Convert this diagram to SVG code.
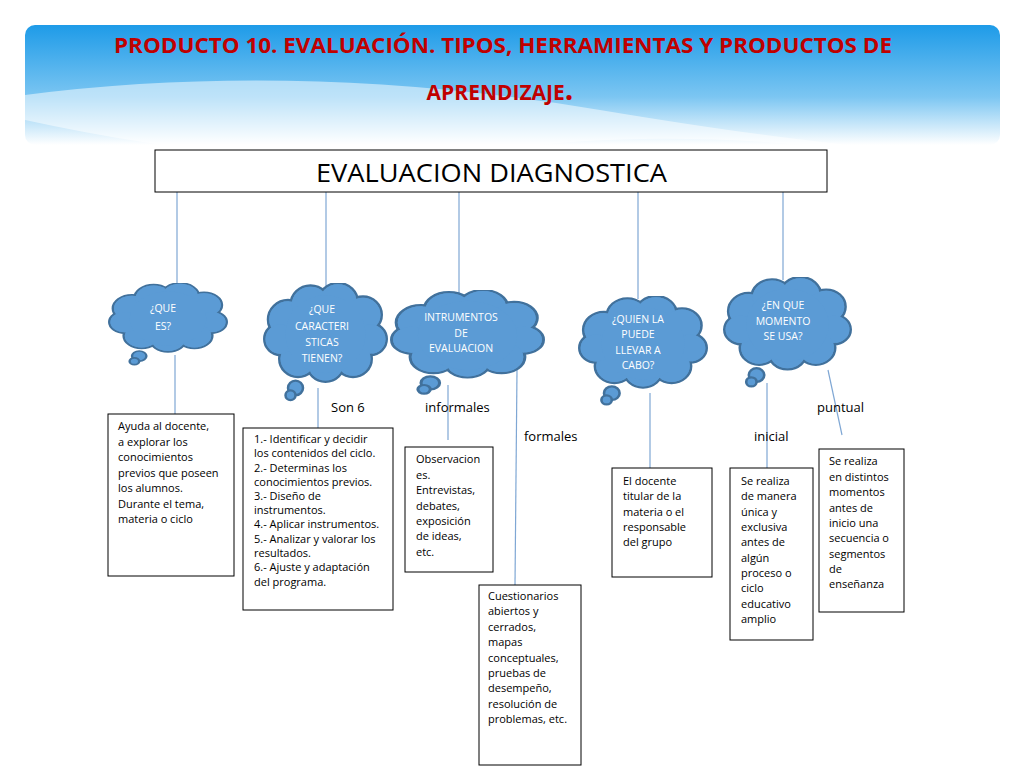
<svg xmlns="http://www.w3.org/2000/svg" xmlns:xlink="http://www.w3.org/1999/xlink" width="1024" height="768" viewBox="0 0 1024 768">
<style>
.t{font-family:"Open Sans","Liberation Sans",sans-serif;font-size:11px;fill:#000}
.ct{font-family:"Open Sans","Liberation Sans",sans-serif;font-size:10.5px;fill:#fff;text-anchor:middle}
.lb{font-family:"Open Sans","Liberation Sans",sans-serif;font-size:13px;fill:#000}
.bx{fill:#fff;stroke:#000;stroke-width:1}
.ln{stroke:#7fa7d4;stroke-width:1.2;fill:none}
</style>
<defs>
<linearGradient id="hg" x1="0" y1="0" x2="0" y2="1">
<stop offset="0" stop-color="#1e9be8"/><stop offset="0.6" stop-color="#7cc6f2"/><stop offset="1" stop-color="#ffffff"/>
</linearGradient>
<symbol id="cloud" viewBox="0 0 100 100" preserveAspectRatio="none">
<g fill="#5b9bd5" stroke="#41719c" stroke-width="2">
<circle cx="20" cy="30" r="16"/><circle cx="38" cy="18" r="16"/><circle cx="60" cy="16" r="16"/><circle cx="80" cy="26" r="15"/><circle cx="86" cy="46" r="13"/><circle cx="72" cy="62" r="15"/><circle cx="50" cy="66" r="15"/><circle cx="28" cy="62" r="15"/><circle cx="14" cy="46" r="13"/>
<circle cx="26" cy="86" r="6"/><circle cx="22" cy="92" r="4"/>
</g>
<g fill="#5b9bd5">
<circle cx="20" cy="30" r="15"/><circle cx="38" cy="18" r="15"/><circle cx="60" cy="16" r="15"/><circle cx="80" cy="26" r="14"/><circle cx="86" cy="46" r="12"/><circle cx="72" cy="62" r="14"/><circle cx="50" cy="66" r="14"/><circle cx="28" cy="62" r="14"/><circle cx="14" cy="46" r="12"/><circle cx="50" cy="42" r="32"/>
</g>
</symbol>
</defs>
<rect width="1024" height="768" fill="#fff"/>
<g id="header">
<rect x="25" y="25" width="975" height="120" rx="10" fill="url(#hg)"/>
<path d="M25 95 Q300 60 600 110 T1000 150 L1000 170 Q700 120 500 150 T25 120 Z" fill="#fff" opacity="0.5"/>
<text x="503" y="53" text-anchor="middle" font-family="'Open Sans','Liberation Sans',sans-serif" font-weight="bold" font-size="21" textLength="778" lengthAdjust="spacingAndGlyphs" fill="#c00000">PRODUCTO 10. EVALUACIÓN. TIPOS, HERRAMIENTAS Y PRODUCTOS DE</text>
<text x="500" y="100" text-anchor="middle" font-family="'Open Sans','Liberation Sans',sans-serif" font-weight="bold" font-size="21" fill="#c00000">APRENDIZAJE<tspan font-size="30">.</tspan></text>
</g>
<g id="connectors">
<line class="ln" x1="177" y1="192" x2="177" y2="286"/>
<line class="ln" x1="326" y1="192" x2="326" y2="286"/>
<line class="ln" x1="459" y1="192" x2="459" y2="293"/>
<line class="ln" x1="638" y1="192" x2="638" y2="299"/>
<line class="ln" x1="783" y1="192" x2="783" y2="280"/>
<line class="ln" x1="175" y1="355" x2="175" y2="414"/>
<line class="ln" x1="318" y1="388" x2="318" y2="428"/>
<line class="ln" x1="448" y1="385" x2="448" y2="440"/>
<line class="ln" x1="517" y1="370" x2="515" y2="585"/>
<line class="ln" x1="650" y1="393" x2="650" y2="468"/>
<line class="ln" x1="767" y1="383" x2="767" y2="468"/>
<line class="ln" x1="828" y1="370" x2="842" y2="435"/>
</g>
<g id="main">
<rect x="155" y="150" width="672" height="42" class="bx"/>
<text x="316" y="182" font-family="'Open Sans','Liberation Sans',sans-serif" font-size="26" textLength="351" lengthAdjust="spacingAndGlyphs">EVALUACION DIAGNOSTICA</text>
</g>
<g id="c1"><use xlink:href="#cloud" x="108" y="283" width="120" height="85"/>
<text class="ct" font-size="12" x="163" y="312">¿QUE</text><text class="ct" font-size="12" x="163" y="330">ES?</text></g>
<g id="c2"><use xlink:href="#cloud" x="263" y="283" width="125" height="122"/>
<text class="ct" x="322" y="313">¿QUE</text><text class="ct" x="322" y="330">CARACTERI</text><text class="ct" x="322" y="346">STICAS</text><text class="ct" x="322" y="362">TIENEN?</text></g>
<g id="c3"><use xlink:href="#cloud" x="390" y="290" width="155" height="108"/>
<text class="ct" x="461" y="321">INTRUMENTOS</text><text class="ct" x="461" y="337">DE</text><text class="ct" x="461" y="352">EVALUACION</text></g>
<g id="c4"><use xlink:href="#cloud" x="578" y="296" width="130" height="113"/>
<text class="ct" x="638" y="323">¿QUIEN LA</text><text class="ct" x="638" y="338">PUEDE</text><text class="ct" x="638" y="354">LLEVAR A</text><text class="ct" x="638" y="369">CABO?</text></g>
<g id="c5"><use xlink:href="#cloud" x="723" y="277" width="129" height="114"/>
<text class="ct" x="783" y="309">¿EN QUE</text><text class="ct" x="783" y="325">MOMENTO</text><text class="ct" x="783" y="340">SE USA?</text></g>
<g id="labels">
<text class="lb" x="331" y="412">Son 6</text>
<text class="lb" x="425" y="412">informales</text>
<text class="lb" x="524" y="441">formales</text>
<text class="lb" x="754" y="441">inicial</text>
<text class="lb" x="817" y="412">puntual</text>
</g>
<g id="bA"><rect class="bx" x="108" y="414" width="126" height="162"/>
<text class="t" x="118" y="430">Ayuda al docente,</text><text class="t" x="118" y="446">a explorar los</text><text class="t" x="118" y="461">conocimientos</text><text class="t" x="118" y="477">previos que poseen</text><text class="t" x="118" y="492">los alumnos.</text><text class="t" x="118" y="508">Durante el tema,</text><text class="t" x="118" y="523">materia o ciclo</text></g>
<g id="bB"><rect class="bx" x="243" y="428" width="150" height="182"/>
<text class="t" x="254" y="443">1.- Identificar y decidir</text><text class="t" x="254" y="457">los contenidos del ciclo.</text><text class="t" x="254" y="472">2.- Determinas los</text><text class="t" x="254" y="486">conocimientos previos.</text><text class="t" x="254" y="500">3.- Diseño de</text><text class="t" x="254" y="514">instrumentos.</text><text class="t" x="254" y="528">4.- Aplicar instrumentos.</text><text class="t" x="254" y="543">5.- Analizar y valorar los</text><text class="t" x="254" y="557">resultados.</text><text class="t" x="254" y="571">6.- Ajuste y adaptación</text><text class="t" x="254" y="586">del programa.</text></g>
<g id="bC"><rect class="bx" x="405" y="447" width="88" height="125"/>
<text class="t" x="416" y="463">Observacion</text><text class="t" x="416" y="479">es.</text><text class="t" x="416" y="494">Entrevistas,</text><text class="t" x="416" y="510">debates,</text><text class="t" x="416" y="525">exposición</text><text class="t" x="416" y="540">de ideas,</text><text class="t" x="416" y="556">etc.</text></g>
<g id="bD"><rect class="bx" x="479" y="585" width="102" height="180"/>
<text class="t" x="488" y="600">Cuestionarios</text><text class="t" x="488" y="615">abiertos y</text><text class="t" x="488" y="631">cerrados,</text><text class="t" x="488" y="646">mapas</text><text class="t" x="488" y="662">conceptuales,</text><text class="t" x="488" y="677">pruebas de</text><text class="t" x="488" y="692">desempeño,</text><text class="t" x="488" y="708">resolución de</text><text class="t" x="488" y="723">problemas, etc.</text></g>
<g id="bE"><rect class="bx" x="612" y="468" width="100" height="109"/>
<text class="t" x="623" y="485">El docente</text><text class="t" x="623" y="500">titular de la</text><text class="t" x="623" y="516">materia o el</text><text class="t" x="623" y="531">responsable</text><text class="t" x="623" y="546">del grupo</text></g>
<g id="bF"><rect class="bx" x="730" y="468" width="83" height="172"/>
<text class="t" x="741" y="485">Se realiza</text><text class="t" x="741" y="500">de manera</text><text class="t" x="741" y="516">única y</text><text class="t" x="741" y="531">exclusiva</text><text class="t" x="741" y="546">antes de</text><text class="t" x="741" y="562">algún</text><text class="t" x="741" y="577">proceso o</text><text class="t" x="741" y="592">ciclo</text><text class="t" x="741" y="608">educativo</text><text class="t" x="741" y="623">amplio</text></g>
<g id="bG"><rect class="bx" x="819" y="449" width="85" height="163"/>
<text class="t" x="829" y="465">Se realiza</text><text class="t" x="829" y="481">en distintos</text><text class="t" x="829" y="496">momentos</text><text class="t" x="829" y="512">antes de</text><text class="t" x="829" y="527">inicio una</text><text class="t" x="829" y="542">secuencia o</text><text class="t" x="829" y="558">segmentos</text><text class="t" x="829" y="573">de</text><text class="t" x="829" y="588">enseñanza</text></g>
</svg>
